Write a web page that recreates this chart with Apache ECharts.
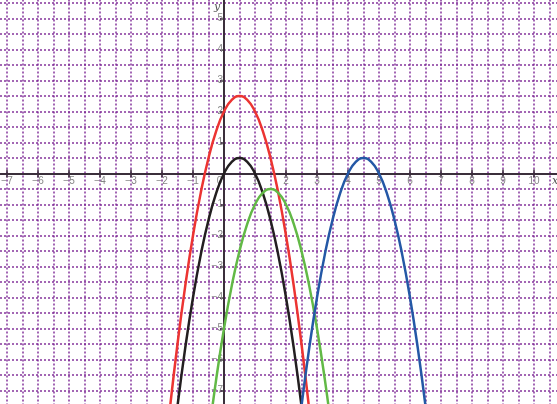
<!DOCTYPE html>
<html>
<head>
<meta charset="utf-8">
<script src="https://cdn.jsdelivr.net/npm/echarts@6/dist/echarts.min.js"></script>
<style>
  html, body { margin: 0; padding: 0; background: #fff; }
  #main { width: 557px; height: 404px; }
</style>
</head>
<body>
<div id="main"></div>
<script>
// values, step 0.25
var redX = [-1.75, -1.5, -1.25, -1, -0.75, -0.5, -0.25, 0, 0.25, 0.5, 0.75, 1, 1.25, 1.5, 1.75, 2, 2.25, 2.5, 2.75];
var redY = [-7.625, -5.5, -3.625, -2, -0.625, 0.5, 1.375, 2, 2.375, 2.5, 2.375, 2, 1.375, 0.5, -0.625, -2, -3.625, -5.5, -7.625];

var blackX = [-1.75, -1.5, -1.25, -1, -0.75, -0.5, -0.25, 0, 0.25, 0.5, 0.75, 1, 1.25, 1.5, 1.75, 2, 2.25, 2.5, 2.75];
var blackY = [-9.625, -7.5, -5.625, -4, -2.625, -1.5, -0.625, 0, 0.375, 0.5, 0.375, 0, -0.625, -1.5, -2.625, -4, -5.625, -7.5, -9.625];

var greenX = [-0.75, -0.5, -0.25, 0, 0.25, 0.5, 0.75, 1, 1.25, 1.5, 1.75, 2, 2.25, 2.5, 2.75, 3, 3.25, 3.5, 3.75];
var greenY = [-10.625, -8.5, -6.625, -5, -3.625, -2.5, -1.625, -1, -0.625, -0.5, -0.625, -1, -1.625, -2.5, -3.625, -5, -6.625, -8.5, -10.625];

var blueX = [2.25, 2.5, 2.75, 3, 3.25, 3.5, 3.75, 4, 4.25, 4.5, 4.75, 5, 5.25, 5.5, 5.75, 6, 6.25, 6.5, 6.75];
var blueY = [-9.625, -7.5, -5.625, -4, -2.625, -1.5, -0.625, 0, 0.375, 0.5, 0.375, 0, -0.625, -1.5, -2.625, -4, -5.625, -7.5, -9.625];

// axis ranges (extend past the window, the grid is pushed out so origin sits at 224,173.5)
var xMin = -8, xMax = 11;
var yMin = -8, yMax = 6;
var unit = 31; // px per unit

function pairs(xs, ys) {
    return xs.map(function (x, i) { return [x, ys[i]]; });
}

function minus(v) {
    return v < 0 ? '\u2212' + Math.abs(v) : String(v);
}

var gridStyle = { color: 'rgba(120,30,145,0.9)', width: 1.5, type: [2, 2] };
var axisColor = '#3b2f3b';
var labelColor = '#858585';

var myChart = echarts.init(document.getElementById('main'));

function curve(name, data, color) {
    return {
        name: name,
        type: 'line',
        data: data,
        smooth: true,
        symbol: 'none',
        clip: true,
        lineStyle: { color: color, width: 2.5 }
    };
}

myChart.setOption({
    animation: false,
    grid: {
        left: -24, right: -8, top: -12.5, bottom: -17.5,
        containLabel: false,
        outerBoundsMode: 'none'
    },
    xAxis: [{
        type: 'value',
        min: xMin,
        max: xMax,
        interval: 1,
        position: 'bottom',
        offset: yMin * unit,
        axisLine: { onZero: false, lineStyle: { color: axisColor, width: 2 } },
        axisTick: { show: true, length: 4, lineStyle: { color: axisColor, width: 1.5 } },
        axisLabel: {
            color: labelColor,
            fontSize: 10,
            fontFamily: 'Liberation Sans',
            margin: 3,
            showMinLabel: false,
            showMaxLabel: false,
            formatter: function (v) {
                if (v === 0) return '{z|0}';
                return minus(v);
            },
            rich: { z: { color: labelColor, fontSize: 10, padding: [0, 9, 0, 0] } }
        },
        splitLine: { show: true, lineStyle: gridStyle },
        minorTick: { show: false, splitNumber: 2 },
        minorSplitLine: { show: true, lineStyle: gridStyle }
    }, {
        // second copy only for the upper half of the cross ticks
        type: 'value',
        min: xMin,
        max: xMax,
        interval: 1,
        position: 'bottom',
        offset: yMin * unit,
        axisLine: { show: false, onZero: false },
        axisTick: { show: true, inside: true, length: 4, lineStyle: { color: axisColor, width: 1.5 } },
        axisLabel: { show: false },
        splitLine: { show: false }
    }],
    yAxis: {
        type: 'value',
        min: yMin,
        max: yMax,
        interval: 1,
        position: 'left',
        offset: xMin * unit,
        axisLine: { onZero: false, lineStyle: { color: axisColor, width: 2 } },
        axisTick: { show: true, length: 4, lineStyle: { color: axisColor, width: 1.5 } },
        axisLabel: {
            color: labelColor,
            fontSize: 10,
            fontFamily: 'Liberation Sans',
            margin: 1,
            showMinLabel: false,
            showMaxLabel: false,
            formatter: function (v) {
                if (v === 0) return '';
                return minus(v);
            }
        },
        splitLine: { show: true, lineStyle: gridStyle },
        minorTick: { show: false, splitNumber: 2 },
        minorSplitLine: { show: true, lineStyle: gridStyle }
    },
    graphic: [
        { type: 'text', left: 214, top: 2, style: { text: 'y', font: 'italic 11px "DejaVu Serif"', fill: '#555' } },
        { type: 'text', left: 552, top: 176, style: { text: 'x', font: 'italic 11px "DejaVu Serif"', fill: '#555' } }
    ],
    series: [
        curve('red', pairs(redX, redY), '#ec3432'),
        curve('black', pairs(blackX, blackY), '#231f20'),
        curve('green', pairs(greenX, greenY), '#62b946'),
        curve('blue', pairs(blueX, blueY), '#2458a6')
    ]
});
</script>
</body>
</html>
